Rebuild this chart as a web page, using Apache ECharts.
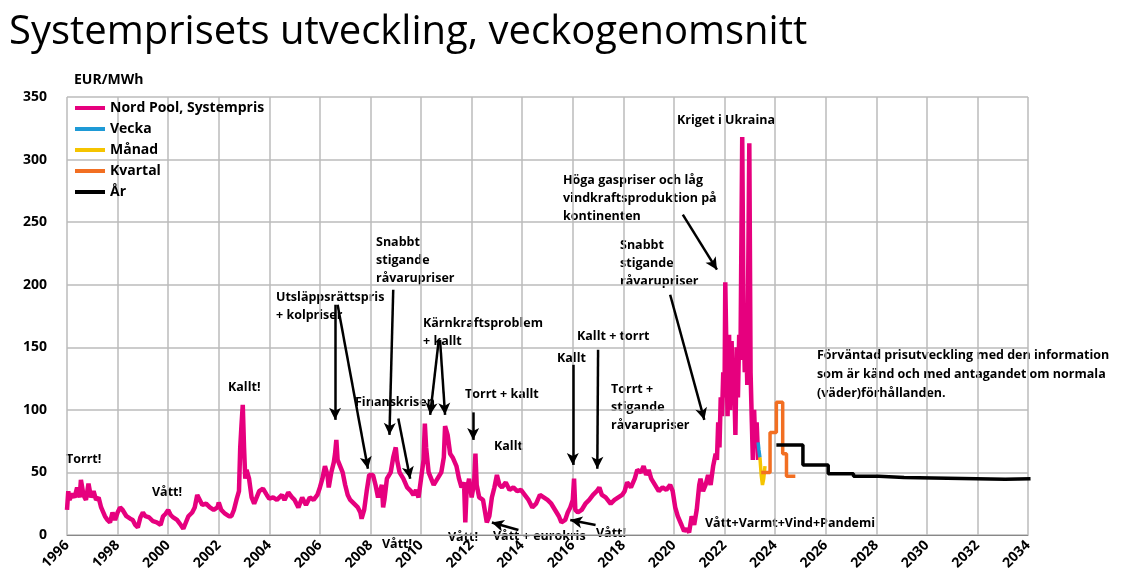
<!DOCTYPE html>
<html><head><meta charset="utf-8">
<script src="https://cdn.jsdelivr.net/npm/echarts@6/dist/echarts.min.js"></script>
<style>html,body{margin:0;padding:0;background:#fff}#c{width:1144px;height:586px}</style>
</head><body><div id="c"></div>
<script>
const xTicks = [1996,2034,2];
const yTicks = [0,350,50];
const systempris = [[1996.0,20],[1996.05,35],[1996.1,28],[1996.2,33],[1996.3,30],[1996.4,38],[1996.5,30],[1996.55,44],[1996.65,32],[1996.75,28],[1996.85,41],[1996.95,30],[1997.05,35],[1997.15,28],[1997.25,30],[1997.35,22],[1997.5,15],[1997.6,12],[1997.7,10],[1997.8,18],[1997.9,12],[1998.0,18],[1998.1,22],[1998.2,20],[1998.35,15],[1998.5,13],[1998.6,12],[1998.7,8],[1998.8,6],[1998.9,14],[1999.0,18],[1999.1,15],[1999.25,14],[1999.4,11],[1999.55,10],[1999.7,8],[1999.8,15],[1999.9,17],[2000.0,20],[2000.1,16],[2000.2,14],[2000.35,12],[2000.5,8],[2000.6,5],[2000.7,10],[2000.8,15],[2000.95,18],[2001.05,22],[2001.15,32],[2001.25,28],[2001.35,24],[2001.5,25],[2001.65,22],[2001.8,20],[2001.95,22],[2002.0,26],[2002.1,20],[2002.25,17],[2002.4,15],[2002.5,15],[2002.6,20],[2002.7,28],[2002.8,35],[2002.85,70],[2002.9,88],[2002.95,104],[2003.0,70],[2003.05,45],[2003.1,52],[2003.2,45],[2003.3,30],[2003.4,25],[2003.5,30],[2003.6,35],[2003.75,37],[2003.9,32],[2004.0,29],[2004.15,30],[2004.3,28],[2004.5,32],[2004.6,28],[2004.75,34],[2004.9,30],[2005.0,28],[2005.15,22],[2005.3,30],[2005.45,24],[2005.6,30],[2005.75,28],[2005.9,32],[2006.0,38],[2006.1,45],[2006.2,55],[2006.3,48],[2006.35,38],[2006.45,50],[2006.55,58],[2006.6,65],[2006.65,76],[2006.7,60],[2006.8,55],[2006.9,50],[2007.0,40],[2007.1,32],[2007.2,28],[2007.35,25],[2007.5,22],[2007.6,18],[2007.65,13],[2007.75,20],[2007.85,35],[2007.95,48],[2008.1,48],[2008.2,40],[2008.3,30],[2008.45,40],[2008.5,22],[2008.55,28],[2008.65,45],[2008.8,50],[2008.9,62],[2009.0,70],[2009.05,60],[2009.15,50],[2009.3,45],[2009.45,38],[2009.6,35],[2009.7,32],[2009.8,36],[2009.9,30],[2010.0,45],[2010.1,60],[2010.15,89],[2010.2,70],[2010.3,50],[2010.4,45],[2010.5,40],[2010.65,45],[2010.8,50],[2010.9,62],[2010.95,87],[2011.05,80],[2011.15,65],[2011.25,62],[2011.4,55],[2011.5,45],[2011.6,38],[2011.7,42],[2011.75,10],[2011.8,35],[2011.9,45],[2012.0,30],[2012.1,42],[2012.15,65],[2012.2,40],[2012.3,30],[2012.45,28],[2012.6,10],[2012.7,15],[2012.8,30],[2012.9,38],[2013.0,48],[2013.1,40],[2013.2,38],[2013.35,42],[2013.5,36],[2013.65,38],[2013.8,35],[2013.95,36],[2014.1,32],[2014.25,28],[2014.4,22],[2014.55,25],[2014.7,32],[2014.85,30],[2015.0,28],[2015.15,25],[2015.3,20],[2015.45,15],[2015.55,10],[2015.7,12],[2015.8,18],[2015.9,22],[2016.0,28],[2016.05,45],[2016.1,20],[2016.2,18],[2016.35,20],[2016.5,25],[2016.65,28],[2016.8,32],[2016.95,35],[2017.05,38],[2017.15,32],[2017.3,30],[2017.5,25],[2017.65,28],[2017.8,30],[2017.95,32],[2018.05,35],[2018.15,42],[2018.3,38],[2018.45,45],[2018.55,52],[2018.7,50],[2018.8,55],[2018.9,48],[2019.0,52],[2019.1,45],[2019.25,40],[2019.4,35],[2019.55,38],[2019.7,36],[2019.85,40],[2019.95,35],[2020.05,22],[2020.15,15],[2020.3,8],[2020.4,3],[2020.5,5],[2020.6,2],[2020.7,15],[2020.8,8],[2020.9,20],[2021.0,40],[2021.05,45],[2021.15,35],[2021.25,40],[2021.35,48],[2021.45,40],[2021.55,55],[2021.65,65],[2021.7,60],[2021.75,90],[2021.8,70],[2021.85,110],[2021.9,95],[2021.95,130],[2022.0,110],[2022.03,202],[2022.08,140],[2022.12,95],[2022.18,160],[2022.22,100],[2022.28,155],[2022.33,110],[2022.38,125],[2022.43,80],[2022.48,150],[2022.53,110],[2022.58,160],[2022.63,140],[2022.7,318],[2022.75,180],[2022.8,130],[2022.85,165],[2022.9,120],[2022.98,313],[2023.03,130],[2023.08,90],[2023.12,60],[2023.17,100],[2023.22,70],[2023.27,90],[2023.33,60]];
const vecka = [[2023.33,74],[2023.36,68],[2023.4,62]];
const manad = [[2023.4,62],[2023.45,48],[2023.5,40],[2023.55,45],[2023.6,55]];
const kvartal = [[2023.45,50],[2023.8,50],[2023.8,82],[2024.05,82],[2024.05,106],[2024.3,106],[2024.3,65],[2024.45,65],[2024.45,47],[2024.8,47]];
const ar = [[2024.05,72],[2025.1,56],[2026.1,49],[2027.1,47],[2028.1,46],[2029.1,44.5],[2033.1,45],[2034.1,45]];
const arrows = [[[2006.6,184],[2006.6,92]],[[2006.7,184],[2007.9,53]],[[2008.9,196],[2008.75,80]],[[2009.1,93],[2009.57,45]],[[2010.7,156],[2010.36,96]],[[2010.75,156],[2010.95,96]],[[2012.06,98],[2012.06,76]],[[2008.4,-11],[2007.7,8]],[[2008.35,-11],[2008.3,17]],[[2013.85,4],[2012.8,10]],[[2016.0,136],[2016.0,56]],[[2017.0,148],[2016.97,53]],[[2016.9,8],[2015.9,12]],[[2019.85,192],[2021.2,92]],[[2020.35,256],[2021.7,212]]];
const notes = [
 ['Torrt!',66,450],['Vått!',152,483],['Kallt!',228,378],['Utsläppsrättspris\n+ kolpriser',276,288],
 ['Snabbt\nstigande\nråvarupriser',376,233],['Finanskrisen',355,393],['Kärnkraftsproblem\n+ kallt',423,314],
 ['Torrt + kallt',465,385],['Kallt',494,437],['Vått!',382,535],['Vått!',448,528],['Vått + eurokris',493,527],
 ['Kallt',557,349],['Kallt + torrt',577,327],['Torrt +\nstigande\nråvarupriser',611,380],['Vått!',596,524],
 ['Höga gaspriser och låg\nvindkraftsproduktion på\nkontinenten',563,171],['Snabbt\nstigande\nråvarupriser',620,236],
 ['Kriget i Ukraina',677,111],['Förväntad prisutveckling med den information\nsom är känd och med antagandet om normala\n(väder)förhållanden.',817,346],
 ['Vått+Varmt+Vind+Pandemi',705,514]
];
const F = 'Open Sans, sans-serif';
const chart = echarts.init(document.getElementById('c'));
chart.setOption({
 animation:false,
 title:{text:'Systemprisets utveckling, veckogenomsnitt',left:4,top:8,textStyle:{fontFamily:F,fontSize:40,fontWeight:'normal',color:'#000'}},
 grid:{left:67,right:116,top:97,bottom:51},
 legend:{orient:'vertical',left:70,top:96,itemWidth:30,itemHeight:4,itemGap:7,icon:'rect',
   textStyle:{fontFamily:F,fontSize:14,fontWeight:'bold',color:'#000'},
   data:['Nord Pool, Systempris','Vecka','Månad','Kvartal','År']},
 xAxis:{type:'value',min:xTicks[0],max:xTicks[1],interval:xTicks[2],
   axisLine:{lineStyle:{color:'#888'}},axisTick:{show:false},
   splitLine:{lineStyle:{color:'#bbb',width:1.5}},
   axisLabel:{rotate:45,fontFamily:F,fontSize:14,fontWeight:'bold',color:'#000',margin:8,formatter:v=>String(v)}},
 yAxis:{type:'value',min:yTicks[0],max:yTicks[1],interval:yTicks[2],
   axisLine:{show:false},axisTick:{show:false},
   splitLine:{lineStyle:{color:'#bbb',width:1.5}},
   axisLabel:{fontFamily:F,fontSize:14,fontWeight:'bold',color:'#000',margin:20}},
 graphic:[{type:'text',left:74,top:73,style:{text:'EUR/MWh',font:'bold 14px '+F,fill:'#000'}}].concat(
   notes.map(n=>({type:'text',left:n[1],top:n[2],style:{text:n[0],font:'bold 12.5px '+F,fill:'#000',lineHeight:n[0].startsWith('Förv')?19:18}}))),
 series:[
  {name:'Nord Pool, Systempris',type:'line',data:systempris,showSymbol:false,clip:false,lineStyle:{color:'#e6007e',width:4.5},itemStyle:{color:'#e6007e'},
   markLine:{silent:true,symbol:['none','arrow'],symbolSize:[9,12],lineStyle:{color:'#000',width:2.5,type:'solid'},label:{show:false},
     data:arrows.map(a=>[{coord:a[0]},{coord:a[1]}])}},
  {name:'Vecka',type:'line',data:vecka,showSymbol:false,lineStyle:{color:'#1e9ad6',width:3.5},itemStyle:{color:'#1e9ad6'}},
  {name:'Månad',type:'line',data:manad,showSymbol:false,lineStyle:{color:'#f5c400',width:3.5},itemStyle:{color:'#f5c400'}},
  {name:'Kvartal',type:'line',data:kvartal,showSymbol:false,lineStyle:{color:'#f26f22',width:3.5},itemStyle:{color:'#f26f22'}},
  {name:'År',type:'line',step:'end',data:ar,showSymbol:false,lineStyle:{color:'#000',width:3.5},itemStyle:{color:'#000'}}
 ]
});
</script></body></html>
